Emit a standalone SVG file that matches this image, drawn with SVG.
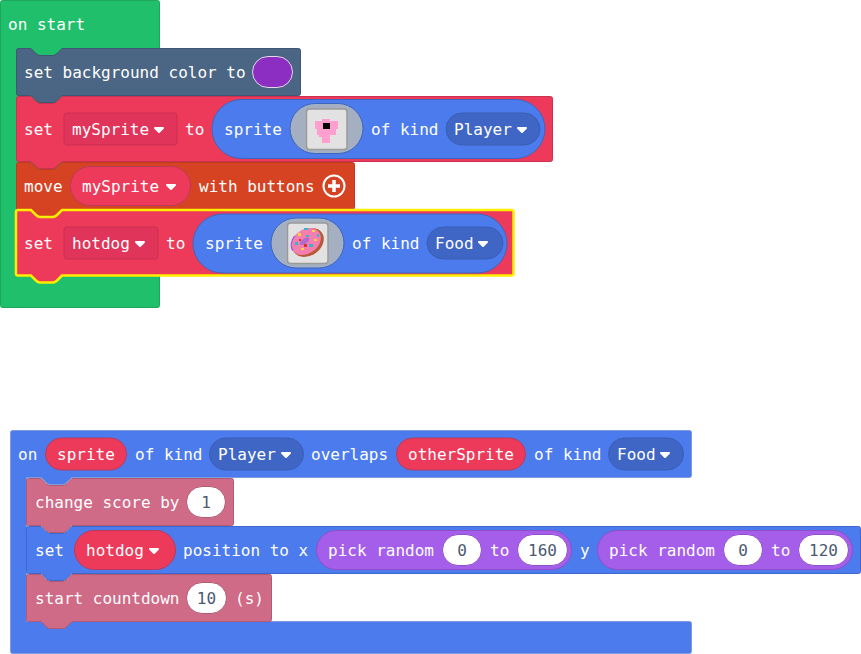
<svg xmlns="http://www.w3.org/2000/svg" xmlns:xlink="http://www.w3.org/1999/xlink" width="861" height="654" viewBox="0 0 861 654">
<style>
text{font-family:"DejaVu Sans Mono","Liberation Mono",monospace;font-size:16px;fill:#fff;dominant-baseline:central}
.val{fill:#4b5a73;text-anchor:middle}
.pill-blue{fill:#4b7bec;stroke:#3e66bd;stroke-width:1}
.dd-blue{fill:#3f66c4;stroke:#3a5eb5;stroke-width:1}
.dd-red{fill:#e0345a;stroke:#c92f4e;stroke-width:1}
.pill-red{fill:#ee3a5a;stroke:#b93a5e;stroke-width:1}
.pill-purple{fill:#a55eea;stroke:#8e4fc9;stroke-width:1}
.white{fill:#fff;stroke:#8e4fc9;stroke-width:1}
.white2{fill:#fff;stroke:#b05a73;stroke-width:1}
.oval{fill:#a4afc2;stroke:#3e66bd;stroke-width:1}
.sq{fill:#e2e2e2;stroke:#9a9a9a;stroke-width:1.5}
.pink{fill:#ff9fd0}
.info{fill:#cf6a87;stroke:#b05a73}
</style>
<defs>
<path id="arr" d="M1,1H9L5,5Z" fill="#fff" stroke="#fff" stroke-width="2" stroke-linejoin="round"/>
</defs>

<g id="on-start">
<path d="M2.500,0.500H157.500a2,2 0 0 1 2,2V305.500a2,2 0 0 1 -2,2H2.500a2,2 0 0 1 -2,-2V2.500a2,2 0 0 1 2,-2Z" fill="#20bf6b" stroke="#1ca75d"/>
<text x="8" y="24">on start</text>
</g>

<g id="set-background">
<path d="M16.500,50.500a2,2 0 0 1 2,-2H31l5,5q2,2 4,2h13q2,0 4,-2l5,-5H298.500a2,2 0 0 1 2,2V93.500a2,2 0 0 1 -2,2H62l-5,5q-2,2 -4,2h-13q-2,0 -4,-2l-5,-5H18.500a2,2 0 0 1 -2,-2Z" fill="#4b6584" stroke="#405672"/>
<text x="24" y="72">set background color to</text>
<rect x="252.500" y="56.500" width="40" height="31" rx="15.500" fill="#8c2ec2" stroke="#e0d8e8"/>
</g>

<g id="set-mysprite">
<path d="M16.500,98.500a2,2 0 0 1 2,-2H31l5,5q2,2 4,2h13q2,0 4,-2l5,-5H550.500a2,2 0 0 1 2,2V159.500a2,2 0 0 1 -2,2H62l-5,5q-2,2 -4,2h-13q-2,0 -4,-2l-5,-5H18.500a2,2 0 0 1 -2,-2Z" fill="#ee3a5a" stroke="#cb3150"/>
<text x="24" y="129">set</text>
<rect class="dd-red" x="64" y="113" width="113" height="32" rx="3"/>
<text x="72" y="129">mySprite</text>
<use xlink:href="#arr" href="#arr" x="154" y="127"/>
<text x="185" y="129">to</text>
<rect class="pill-blue" x="212" y="99.500" width="333" height="59" rx="29.500"/>
<text x="224" y="129">sprite</text>
<rect class="oval" x="290" y="103.500" width="73" height="50" rx="25"/>
<rect class="sq" x="306.500" y="109" width="40.500" height="40.500" rx="3"/>
<path class="pink" d="M315,121H322V119H330V121H338V129H336V135H330V143H322V137H319V135H317V129H315Z"/>
<rect x="323" y="123" width="7" height="6" fill="#000"/>
<text x="371" y="129">of kind</text>
<rect class="dd-blue" x="446" y="113" width="94" height="32" rx="16"/>
<text x="454" y="129">Player</text>
<use xlink:href="#arr" href="#arr" x="517" y="127"/>
</g>

<g id="move-mysprite">
<path d="M16.500,164.500a2,2 0 0 1 2,-2H31l5,5q2,2 4,2h13q2,0 4,-2l5,-5H352.500a2,2 0 0 1 2,2V207.500a2,2 0 0 1 -2,2H62l-5,5q-2,2 -4,2h-13q-2,0 -4,-2l-5,-5H18.500a2,2 0 0 1 -2,-2Z" fill="#d54322" stroke="#bd3b1e"/>
<text x="24" y="186">move</text>
<rect class="pill-red" x="70.500" y="166.500" width="120" height="39" rx="19.500"/>
<text x="82" y="186">mySprite</text>
<use xlink:href="#arr" href="#arr" x="166" y="184"/>
<text x="199" y="186">with buttons</text>
<circle cx="334" cy="186" r="10.500" fill="none" stroke="#fff" stroke-width="2"/>
<path d="M334,180V192M328,186H340" stroke="#fff" stroke-width="3.500" fill="none"/>
</g>

<g id="set-hotdog">
<path d="M16,212a2,2 0 0 1 2,-2H31l5,5q2,2 4,2h13q2,0 4,-2l5,-5H511.500a2,2 0 0 1 2,2V273.500a2,2 0 0 1 -2,2H62l-5,5q-2,2 -4,2h-13q-2,0 -4,-2l-5,-5H18a2,2 0 0 1 -2,-2Z" fill="#ee3a5a" stroke="#ffee00" stroke-width="2.500"/>
<text x="24" y="243">set</text>
<rect class="dd-red" x="64" y="227" width="94" height="32" rx="3"/>
<text x="72" y="243">hotdog</text>
<use xlink:href="#arr" href="#arr" x="135" y="241"/>
<text x="166" y="243">to</text>
<rect class="pill-blue" x="193" y="214" width="314" height="59" rx="29.500"/>
<text x="205" y="243">sprite</text>
<rect class="oval" x="271" y="218" width="73" height="50" rx="25"/>
<rect class="sq" x="287.500" y="223" width="40.500" height="40.500" rx="3"/>
<g transform="rotate(-35 307 242)">
<ellipse cx="307.500" cy="243" rx="17" ry="13" fill="#b65a35"/>
<ellipse cx="306.500" cy="241" rx="16" ry="12" fill="#f47eb0"/>
<path d="M290.500,241a16,12 0 0 1 10,-11" fill="none" stroke="#a45ccf" stroke-width="1.500"/>
<ellipse cx="305.500" cy="240" rx="5.500" ry="2.500" fill="#b06ad0"/>
</g>
<g fill="#35b5c9">
<rect x="304" y="228" width="4" height="2"/>
<rect x="295" y="242" width="3" height="3"/>
<rect x="309" y="244" width="4" height="3"/>
<rect x="317" y="234" width="2" height="3"/>
<rect x="306" y="235" width="3" height="2"/>
</g>
<g fill="#f5d53a">
<rect x="298" y="233" width="3" height="3"/>
<rect x="301" y="248" width="3" height="2"/>
<rect x="312" y="230" width="3" height="2"/>
<rect x="314" y="239" width="3" height="2"/>
</g>
<g fill="#d9342b">
<rect x="304" y="244" width="3" height="3"/>
<rect x="299" y="239" width="2" height="2"/>
</g>
<text x="352" y="243">of kind</text>
<rect class="dd-blue" x="427" y="227" width="76" height="32" rx="16"/>
<text x="435" y="243">Food</text>
<use xlink:href="#arr" href="#arr" x="478" y="241"/>
</g>

<g id="on-overlap">
<path d="M12.500,430.500H689.500a2,2 0 0 1 2,2V475.500a2,2 0 0 1 -2,2H72l-5,5q-2,2 -4,2h-13q-2,0 -4,-2l-5,-5H26.500V621.500H689.500a2,2 0 0 1 2,2V651.500a2,2 0 0 1 -2,2H12.500a2,2 0 0 1 -2,-2V432.500a2,2 0 0 1 2,-2Z" fill="#4b7bec" stroke="#7f9be0"/>
<text x="18" y="454">on</text>
<rect class="pill-red" x="45.500" y="438" width="81" height="32" rx="16"/>
<text x="57" y="454">sprite</text>
<text x="135" y="454">of kind</text>
<rect class="dd-blue" x="209.500" y="438" width="94" height="32" rx="16"/>
<text x="218" y="454">Player</text>
<use xlink:href="#arr" href="#arr" x="281" y="452"/>
<text x="311" y="454">overlaps</text>
<rect class="pill-red" x="396.500" y="438" width="129" height="32" rx="16"/>
<text x="408" y="454">otherSprite</text>
<text x="534" y="454">of kind</text>
<rect class="dd-blue" x="608.500" y="438" width="75" height="32" rx="16"/>
<text x="617" y="454">Food</text>
<use xlink:href="#arr" href="#arr" x="660" y="452"/>
</g>

<g id="change-score">
<path class="info" d="M26.500,480.500a2,2 0 0 1 2,-2H41l5,5q2,2 4,2h13q2,0 4,-2l5,-5H231.500a2,2 0 0 1 2,2V523.500a2,2 0 0 1 -2,2H72l-5,5q-2,2 -4,2h-13q-2,0 -4,-2l-5,-5H28.500a2,2 0 0 1 -2,-2Z"/>
<text x="35" y="502">change score by</text>
<rect class="white2" x="186.500" y="486.500" width="39" height="31" rx="15.500"/>
<text class="val" x="206" y="502">1</text>
</g>

<g id="set-position">
<path d="M26.500,528.500a2,2 0 0 1 2,-2H41l5,5q2,2 4,2h13q2,0 4,-2l5,-5H858.500a2,2 0 0 1 2,2V571.500a2,2 0 0 1 -2,2H72l-5,5q-2,2 -4,2h-13q-2,0 -4,-2l-5,-5H28.500a2,2 0 0 1 -2,-2Z" fill="#4b7bec" stroke="#3e68cc"/>
<text x="35" y="550">set</text>
<rect class="pill-red" x="74.500" y="530.500" width="101" height="39" rx="19.500"/>
<text x="86" y="550">hotdog</text>
<use xlink:href="#arr" href="#arr" x="149" y="548"/>
<text x="183" y="550">position to x</text>
<rect class="pill-purple" x="316.500" y="530.500" width="255" height="39" rx="19.500"/>
<text x="328" y="550">pick random</text>
<rect class="white" x="442.500" y="534.500" width="39" height="31" rx="15.500"/>
<text class="val" x="462" y="550">0</text>
<text x="490" y="550">to</text>
<rect class="white" x="517.500" y="534.500" width="50" height="31" rx="15.500"/>
<text class="val" x="542.500" y="550">160</text>
<text x="580" y="550">y</text>
<rect class="pill-purple" x="597.500" y="530.500" width="255" height="39" rx="19.500"/>
<text x="609" y="550">pick random</text>
<rect class="white" x="723.500" y="534.500" width="39" height="31" rx="15.500"/>
<text class="val" x="743" y="550">0</text>
<text x="771" y="550">to</text>
<rect class="white" x="798.500" y="534.500" width="50" height="31" rx="15.500"/>
<text class="val" x="823.500" y="550">120</text>
</g>

<g id="start-countdown">
<path class="info" d="M26.500,576.500a2,2 0 0 1 2,-2H41l5,5q2,2 4,2h13q2,0 4,-2l5,-5H269.500a2,2 0 0 1 2,2V619.500a2,2 0 0 1 -2,2H72l-5,5q-2,2 -4,2h-13q-2,0 -4,-2l-5,-5H28.500a2,2 0 0 1 -2,-2Z"/>
<text x="35" y="598">start countdown</text>
<rect class="white2" x="186.500" y="582.500" width="40" height="31" rx="15.500"/>
<text class="val" x="206.500" y="598">10</text>
<text x="235" y="598">(s)</text>
</g>
</svg>
